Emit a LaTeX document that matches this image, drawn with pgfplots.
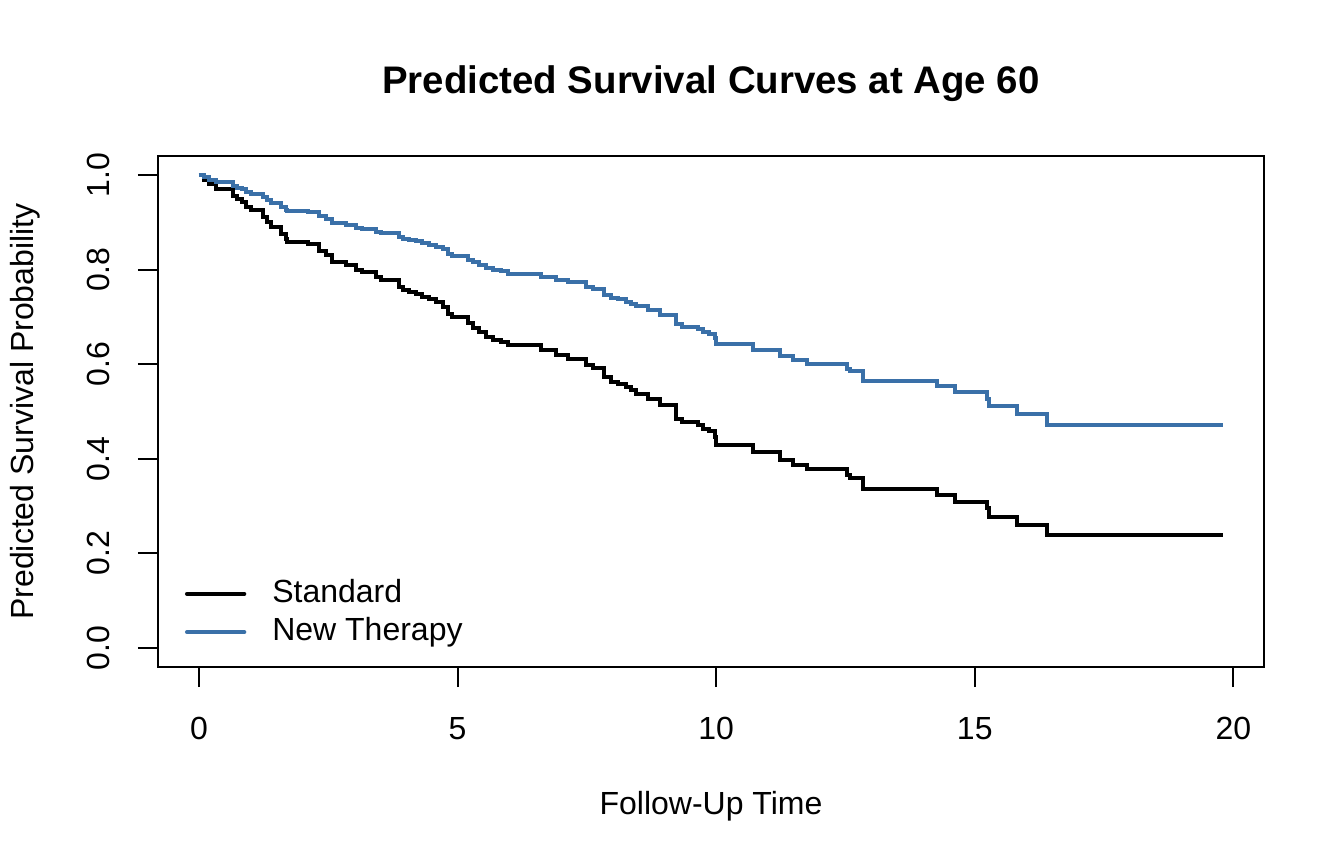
\documentclass[border=0pt]{standalone}
\usepackage{fontspec}
\setmainfont{Liberation Sans}
\usepackage{pgfplots}
\pgfplotsset{compat=1.18}
\usepackage{pgfplotstable}
\definecolor{newblue}{RGB}{58,112,168}

\pgfplotstableread{
t S
0 1.000
0.10 0.990
0.19 0.981
0.32 0.970
0.65 0.956
0.74 0.949
0.84 0.942
0.90 0.932
1.00 0.925
1.23 0.911
1.32 0.900
1.39 0.890
1.58 0.876
1.68 0.865
1.71 0.858
2.10 0.854
2.32 0.840
2.45 0.830
2.58 0.816
2.84 0.809
3.03 0.798
3.16 0.795
3.42 0.784
3.52 0.777
3.87 0.763
3.94 0.756
4.07 0.753
4.20 0.749
4.32 0.742
4.45 0.738
4.58 0.731
4.71 0.721
4.81 0.707
4.90 0.700
5.20 0.686
5.29 0.677
5.42 0.668
5.55 0.658
5.68 0.652
5.84 0.647
5.97 0.640
6.61 0.629
6.91 0.619
7.13 0.612
7.49 0.598
7.62 0.591
7.84 0.573
7.97 0.563
8.10 0.559
8.26 0.552
8.36 0.545
8.45 0.538
8.68 0.527
8.91 0.513
9.23 0.485
9.33 0.478
9.65 0.471
9.74 0.464
9.87 0.458
9.97 0.447
10.00 0.429
10.71 0.415
11.23 0.397
11.49 0.387
11.75 0.378
12.52 0.366
12.58 0.359
12.84 0.336
14.26 0.323
14.62 0.309
15.23 0.295
15.27 0.278
15.81 0.260
16.39 0.238
19.80 0.238
}\standard

\pgfplotstableread{
t S
0 1.000
0.10 0.9947
0.19 0.9900
0.32 0.9842
0.65 0.9767
0.74 0.9729
0.84 0.9692
0.90 0.9638
1.00 0.9600
1.23 0.9523
1.32 0.9463
1.39 0.9408
1.58 0.9330
1.68 0.9268
1.71 0.9229
2.10 0.9206
2.32 0.9127
2.45 0.9070
2.58 0.8989
2.84 0.8949
3.03 0.8885
3.16 0.8867
3.42 0.8803
3.52 0.8762
3.87 0.8678
3.94 0.8637
4.07 0.8619
4.20 0.8595
4.32 0.8552
4.45 0.8528
4.58 0.8486
4.71 0.8425
4.81 0.8339
4.90 0.8295
5.20 0.8208
5.29 0.8151
5.42 0.8094
5.55 0.8031
5.68 0.7992
5.84 0.7960
5.97 0.7915
6.61 0.7843
6.91 0.7777
7.13 0.7731
7.49 0.7638
7.62 0.7591
7.84 0.7469
7.97 0.7401
8.10 0.7373
8.26 0.7324
8.36 0.7276
8.45 0.7227
8.68 0.7149
8.91 0.7048
9.23 0.6844
9.33 0.6792
9.65 0.6740
9.74 0.6688
9.87 0.6642
9.97 0.6558
10.00 0.6418
10.71 0.6307
11.23 0.6163
11.49 0.6081
11.75 0.6006
12.52 0.5906
12.58 0.5846
12.84 0.5647
14.26 0.5531
14.62 0.5404
15.23 0.5274
15.27 0.5113
15.81 0.4937
16.39 0.4713
19.80 0.4713
}\newtherapy

\begin{document}
\begin{tikzpicture}
\path[use as bounding box] (-59.25pt,-73.875pt) rectangle (444.75pt,250.125pt);
\begin{axis}[
  scale only axis,
  width=414.75pt, height=191.625pt,
  xmin=-0.792, xmax=20.592,
  ymin=-0.04, ymax=1.04,
  axis line style={line width=0.75pt},
  major tick style={line width=0.75pt, black},
  tick align=outside,
  major tick length=7.5pt,
  xtick={0,5,10,15,20},
  ytick={0,0.2,0.4,0.6,0.8,1.0},
  xtick pos=bottom, ytick pos=left,
  yticklabel style={/pgf/number format/fixed, /pgf/number format/fixed zerofill, /pgf/number format/precision=1},
  /pgf/number format/assume math mode=true,
  ticklabel style={font=\fontsize{12}{14}\selectfont},
  xticklabel style={anchor=center, yshift=-15.5pt},
  yticklabel style={rotate=90, anchor=center, yshift=15pt},
  title={\bfseries Predicted Survival Curves at Age 60},
  title style={font=\fontsize{14.4}{17}\selectfont, at={(axis description cs:0.5,1.1096)}, anchor=center},
  xlabel={Follow-Up Time},
  ylabel={Predicted Survival Probability},
  label style={font=\fontsize{12}{14}\selectfont},
  xlabel style={at={(axis description cs:0.5,-0.272)}, anchor=center},
  ylabel style={at={(axis description cs:-0.1203,0.5)}, anchor=center},
  legend style={draw=none, fill=none, inner sep=0pt, outer sep=0pt,
    at={(axis description cs:0.0244,0.1057)}, anchor=west,
    row sep=3.4pt, column sep=9.75pt,
    font=\fontsize{12}{14}\selectfont,
    nodes={inner sep=0pt, text height=8.6pt, text depth=2.3pt}},
  legend cell align=left,
  legend image code/.code={\draw[#1, line cap=round] (0pt,0pt) -- (21.5pt,0pt);},
]
\addplot[const plot, black, line width=1.5pt] table[x=t, y=S] {\standard};
\addlegendentry{Standard}
\addplot[const plot, newblue, line width=1.5pt] table[x=t, y=S] {\newtherapy};
\addlegendentry{New Therapy}
\end{axis}
\end{tikzpicture}
\end{document}
